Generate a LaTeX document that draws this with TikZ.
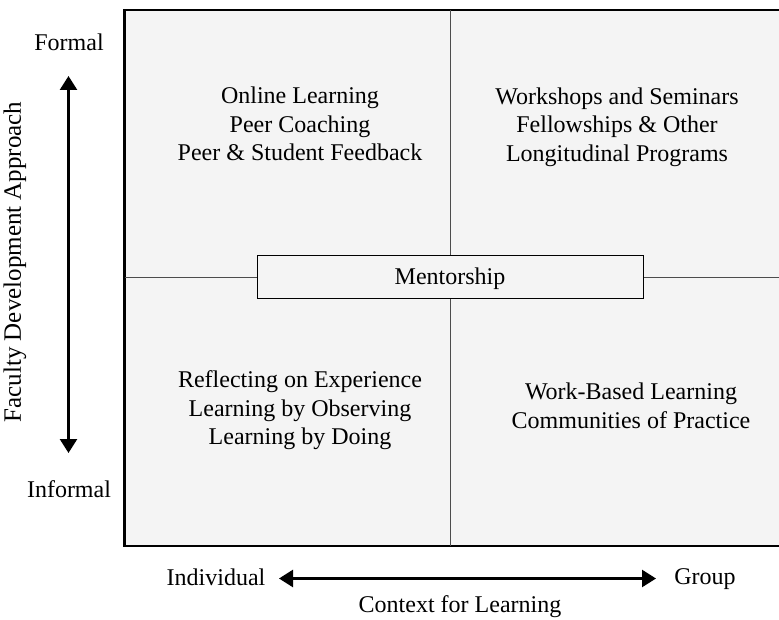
\documentclass[tikz,border=0pt]{standalone}
\usepackage{fontspec}
\setmainfont{Liberation Serif}
\usetikzlibrary{arrows.meta}
\definecolor{quadfill}{HTML}{F4F4F4}
\tikzset{
  lbl/.style={font=\fontsize{24}{28.5}\selectfont, inner sep=0pt},
  quad/.style={lbl, align=center},
  axisarrow/.style={line width=2.6pt, {Triangle[length=14pt,width=17pt]}-{Triangle[length=14pt,width=17pt]}},
  divider/.style={line width=0.8pt, draw=black!70},
}
\begin{document}
\begin{tikzpicture}[x=1pt,y=-1pt]
\useasboundingbox (0,0) rectangle (779,620);
% main box
\draw[line width=2.8pt, fill=quadfill] (124.5,10) rectangle (790,546);
% dividers
\coordinate (vt) at (450,10);
\coordinate (vb) at (450,546);
\coordinate (hl) at (124.5,277);
\coordinate (hr) at (790,277);
\draw[divider] (vt) -- (vb);
\draw[divider] (hl) -- (hr);
% mentorship box
\node[lbl, draw, line width=0.8pt, fill=quadfill, minimum width=386pt, minimum height=43pt, text height=17pt, text depth=0pt] (ment) at (450,276.5) {Mentorship};
% quadrant texts
\node[quad] (tl) at (300,124) {Online Learning\\Peer Coaching\\Peer \& Student Feedback};
\node[quad] (tr) at (617,127) {Workshops and Seminars\\Fellowships \& Other\\Longitudinal Programs};
\node[quad] (bl) at (300,410.5) {Reflecting on Experience\\Learning by Observing\\Learning by Doing};
\node[quad] (br) at (631,406) {Work-Based Learning\\Communities of Practice};
% vertical axis
\node[lbl] (formal) at (69,42) {Formal};
\node[lbl] (informal) at (69,489) {Informal};
\coordinate (vtop) at (68.5,76);
\coordinate (vbot) at (68.5,453);
\draw[axisarrow] (vbot) -- (vtop);
\node[lbl, font=\fontsize{25}{28}\selectfont, rotate=90] (fda) at (15,262) {Faculty Development Approach};
% horizontal axis
\node[lbl] (indiv) at (216,577) {Individual};
\node[lbl] (group) at (705,579) {Group};
\coordinate (hleft) at (279,578.5);
\coordinate (hright) at (656,578.5);
\draw[axisarrow] (hleft) -- (hright);
\node[lbl] (ctx) at (460,607) {Context for Learning};
\end{tikzpicture}
\end{document}
